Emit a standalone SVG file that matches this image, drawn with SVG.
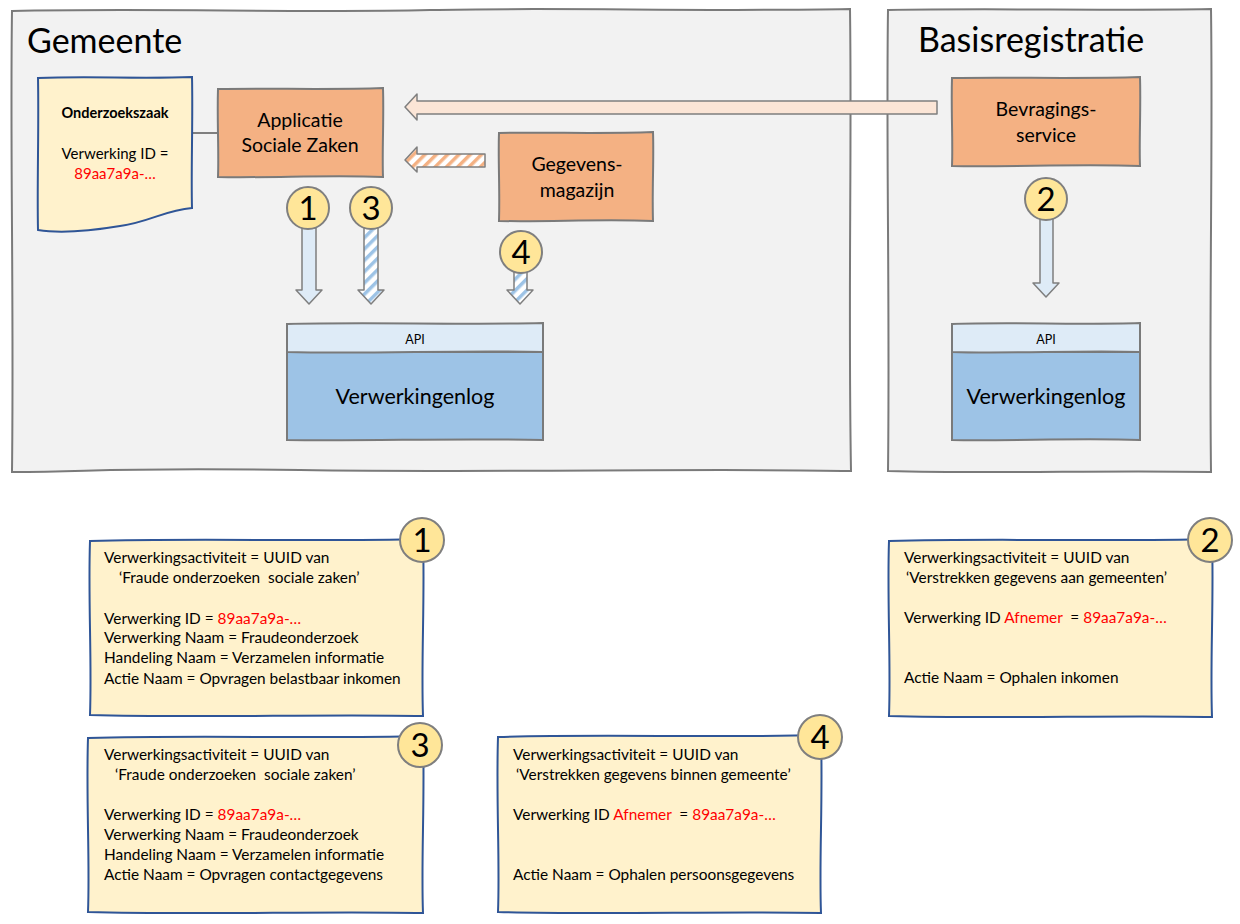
<svg xmlns="http://www.w3.org/2000/svg" width="1240" height="924" viewBox="0 0 1240 924">
<style>
text{font-family:Lato,"Open Sans","Liberation Sans",sans-serif;fill:#000}
.cont{fill:#f2f2f2;stroke:#7a7a7a;stroke-width:2}
.box{fill:#f4b183;stroke:#7a7a7a;stroke-width:2}
.note{fill:#fff2cc;stroke:#2f5597;stroke-width:2}
.badge{fill:#ffe699;stroke:#7f7f7f;stroke-width:2}
.bnum{font-size:33px;text-anchor:middle}
.ttl{font-size:34px}
.lbl{font-size:19.5px;text-anchor:middle}
.api{fill:#deebf7;stroke:#7a7a7a;stroke-width:2}
.log{fill:#9dc3e6;stroke:#7a7a7a;stroke-width:2}
.nt{font-size:15.4px}
.red{fill:#ff0000}
.arr{stroke:#7f7f7f;stroke-width:1.5;stroke-linejoin:round}
</style>
<defs>
<pattern id="hatchO" patternUnits="userSpaceOnUse" width="8" height="8" patternTransform="rotate(45)">
<rect width="8" height="8" fill="#ffffff"/>
<rect width="3.5" height="8" fill="#f4b183"/>
</pattern>
<pattern id="hatchB" patternUnits="userSpaceOnUse" width="8" height="8" patternTransform="rotate(45)">
<rect width="8" height="8" fill="#ffffff"/>
<rect width="3.5" height="8" fill="#9dc3e6"/>
</pattern>
</defs>

<g id="gemeente">
<path class="cont" d="M12,11 C150,8 300,13 430,10 S700,12 850,9 C852,150 848,300 851,471 C700,468 500,473 300,470 S100,472 12,472 C14,300 10,150 12,11 Z"/>
<text class="ttl" x="27" y="53">Gemeente</text>
</g>
<g id="basisregistratie">
<path class="cont" d="M888,10 C1000,8 1100,11 1211,9 C1213,150 1209,300 1211,472 C1100,470 1000,474 888,471 C890,300 886,150 888,10 Z"/>
<text class="ttl" x="918" y="52">Basisregistratie</text>
</g>

<g id="connectors">
<line x1="192" y1="133" x2="218" y2="133" stroke="#7f7f7f" stroke-width="2"/>
<path class="arr" fill="#fbe5d6" d="M937,101 L417,101 L417,94 L405,107 L417,120 L417,114 L937,114 Z"/>
<path class="arr" fill="url(#hatchO)" d="M485,154 L417,154 L417,147 L405,160 L417,172 L417,167 L485,167 Z"/>
<path class="arr" fill="#deebf7" d="M302,228 L316,228 L316,290 L322,290 L309,304 L296,290 L302,290 Z"/>
<path class="arr" fill="url(#hatchB)" d="M364,228 L378,228 L378,290 L384,290 L371,304 L358,290 L364,290 Z"/>
<path class="arr" fill="url(#hatchB)" d="M514,272 L527,272 L527,290 L533,290 L520,304 L507,290 L514,290 Z"/>
<path class="arr" fill="#deebf7" d="M1040,219 L1053,219 L1053,283 L1059,283 L1046,297 L1033,283 L1040,283 Z"/>
</g>

<g id="onderzoekszaak">
<path class="note" d="M38,78 C90,76 140,79 192,77 C193,120 191,170 192,208 C165,210 150,222 120,226 C90,231 62,234 38,230 C37,180 39,130 38,78 Z"/>
<text x="115" y="118" font-size="14.5" font-weight="bold" text-anchor="middle">Onderzoekszaak</text>
<text x="115" y="159" font-size="15" text-anchor="middle">Verwerking ID =</text>
<text class="red" x="115" y="179" font-size="15" text-anchor="middle">89aa7a9a-…</text>
</g>

<g id="applicatie">
<path class="box" d="M218,89 C270,88 330,90 383,88 C384,120 382,150 383,177 C330,175 270,178 218,177 C219,150 217,120 218,89 Z"/>
<text class="lbl" x="300" y="127">Applicatie</text>
<text class="lbl" x="300" y="152">Sociale Zaken</text>
</g>

<g id="gegevensmagazijn">
<path class="box" d="M499,133 C550,132 600,134 653,132 C654,160 652,190 653,221 C600,219 550,222 499,221 C500,190 498,160 499,133 Z"/>
<text class="lbl" x="577" y="171">Gegevens-</text>
<text class="lbl" x="577" y="197">magazijn</text>
</g>

<g id="bevragingsservice">
<path class="box" d="M952,78 C1010,77 1080,79 1140,77 C1141,110 1139,140 1140,166 C1080,164 1010,167 952,166 C953,140 951,110 952,78 Z"/>
<text class="lbl" x="1046" y="116">Bevragings-</text>
<text class="lbl" x="1046" y="142">service</text>
</g>

<g id="verwerkingenlog-gemeente">
<path class="log" d="M287,352 L543,352 L543,440 C450,438 380,441 287,440 Z"/>
<path class="api" d="M287,324 C370,322 460,325 543,323 L543,352 C460,350 370,354 287,352 Z"/>
<text x="415" y="344" font-size="12.5" text-anchor="middle">API</text>
<text x="415" y="404" font-size="21.5" text-anchor="middle">Verwerkingenlog</text>
</g>

<g id="verwerkingenlog-basis">
<path class="log" d="M952,352 L1140,352 L1140,440 C1080,438 1010,441 952,440 Z"/>
<path class="api" d="M952,324 C1010,322 1080,325 1140,323 L1140,352 C1080,350 1010,354 952,352 Z"/>
<text x="1046" y="344" font-size="12.5" text-anchor="middle">API</text>
<text x="1046" y="404" font-size="21.5" text-anchor="middle">Verwerkingenlog</text>
</g>

<g id="badge-1"><circle class="badge" cx="308" cy="208" r="21"/><text class="bnum" x="308" y="220">1</text></g>
<g id="badge-3"><circle class="badge" cx="371" cy="208" r="21"/><text class="bnum" x="371" y="220">3</text></g>
<g id="badge-4"><circle class="badge" cx="521" cy="252" r="21"/><text class="bnum" x="521" y="264">4</text></g>
<g id="badge-2"><circle class="badge" cx="1046" cy="199" r="21"/><text class="bnum" x="1046" y="211">2</text></g>

<g id="note-1">
<path class="note" d="M90,541 C200,538 320,542 423,539 C425,600 421,660 423,716 C320,714 200,718 90,715 C92,660 88,600 90,541 Z"/>
<text class="nt" x="104" y="563">Verwerkingsactiviteit = UUID van</text>
<text class="nt" x="119" y="583">‘Fraude onderzoeken&#160; sociale zaken’</text>
<text class="nt" x="104" y="624">Verwerking ID = <tspan class="red">89aa7a9a-…</tspan></text>
<text class="nt" x="104" y="643">Verwerking Naam = Fraudeonderzoek</text>
<text class="nt" x="104" y="663">Handeling Naam = Verzamelen informatie</text>
<text class="nt" x="104" y="684">Actie Naam = Opvragen belastbaar inkomen</text>
<circle class="badge" cx="422" cy="540" r="22"/><text class="bnum" x="422" y="552">1</text>
</g>

<g id="note-3">
<path class="note" d="M88,738 C200,735 320,739 423,736 C425,800 421,860 423,913 C320,911 200,915 88,912 C90,860 86,800 88,738 Z"/>
<text class="nt" x="104" y="760">Verwerkingsactiviteit = UUID van</text>
<text class="nt" x="115" y="780">‘Fraude onderzoeken&#160; sociale zaken’</text>
<text class="nt" x="104" y="820">Verwerking ID = <tspan class="red">89aa7a9a-…</tspan></text>
<text class="nt" x="104" y="840">Verwerking Naam = Fraudeonderzoek</text>
<text class="nt" x="104" y="860">Handeling Naam = Verzamelen informatie</text>
<text class="nt" x="104" y="880">Actie Naam = Opvragen contactgegevens</text>
<circle class="badge" cx="420" cy="745" r="22"/><text class="bnum" x="420" y="757">3</text>
</g>

<g id="note-4">
<path class="note" d="M498,737 C600,734 720,738 821,735 C823,800 819,860 821,913 C720,911 600,915 498,912 C500,860 496,800 498,737 Z"/>
<text class="nt" x="513" y="760">Verwerkingsactiviteit = UUID van</text>
<text class="nt" x="516" y="780">‘Verstrekken gegevens binnen gemeente’</text>
<text class="nt" x="513" y="820">Verwerking ID <tspan class="red">Afnemer</tspan>&#160; = <tspan class="red">89aa7a9a-…</tspan></text>
<text class="nt" x="513" y="880">Actie Naam = Ophalen persoonsgegevens</text>
<circle class="badge" cx="820" cy="737" r="22"/><text class="bnum" x="820" y="749">4</text>
</g>

<g id="note-2">
<path class="note" d="M889,541 C1000,538 1110,542 1212,539 C1214,600 1210,660 1212,717 C1110,715 1000,719 889,716 C891,660 887,600 889,541 Z"/>
<text class="nt" x="904" y="563">Verwerkingsactiviteit = UUID van</text>
<text class="nt" x="906" y="583">‘Verstrekken gegevens aan gemeenten’</text>
<text class="nt" x="904" y="623">Verwerking ID <tspan class="red">Afnemer</tspan>&#160; = <tspan class="red">89aa7a9a-…</tspan></text>
<text class="nt" x="904" y="683">Actie Naam = Ophalen inkomen</text>
<circle class="badge" cx="1210" cy="540" r="22"/><text class="bnum" x="1210" y="552">2</text>
</g>
</svg>
